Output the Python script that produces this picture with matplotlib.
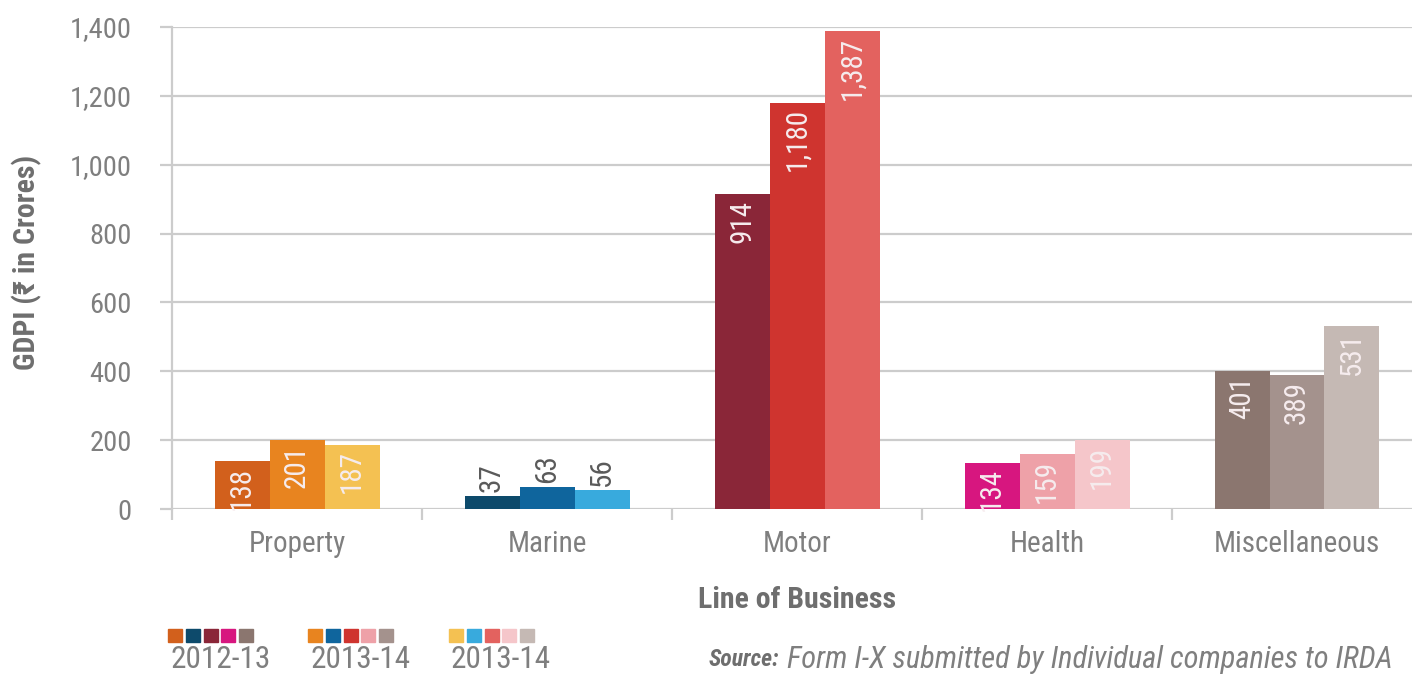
import numpy as np
import matplotlib.pyplot as plt
from matplotlib.patches import Rectangle

# Datos de GDPI por linea de negocio (en crores)
lineas = ["Property", "Marine", "Motor", "Health", "Miscellaneous"]
anios = ["2012-13", "2013-14", "2013-14"]
gdpi_2012_13 = [138, 37, 914, 134, 401]
gdpi_2013_14 = [201, 63, 1180, 159, 389]
gdpi_2014_15 = [187, 56, 1387, 199, 531]

# Colores por linea de negocio, un tono por cada anio
colores_2012_13 = ["#D2601C", "#0D4A6B", "#8A2638", "#D7167F", "#8B766F"]
colores_2013_14 = ["#E8841F", "#0F659D", "#CF342F", "#EEA1A8", "#A4928D"]
colores_2014_15 = ["#F4C152", "#38AADD", "#E3625F", "#F5C6CA", "#C5B9B4"]

series = [gdpi_2012_13, gdpi_2013_14, gdpi_2014_15]
colores = [colores_2012_13, colores_2013_14, colores_2014_15]

fuente = ["Roboto Condensed", "DejaVu Sans"]
plt.rcParams["font.stretch"] = "condensed"
gris = "#7F7F7F"
gris_grid = "#CCCCCC"

fig = plt.figure(figsize=(14.12, 6.77), dpi=100)
ax = fig.add_axes([172 / 1412, 168 / 677, 1250 / 1412, 482 / 677])

x = np.arange(len(lineas))
ancho = 0.22

for i, (valores, cols) in enumerate(zip(series, colores)):
    pos = x + (i - 1) * ancho
    barras = ax.bar(pos, valores, width=ancho, color=cols, zorder=3)
    for b, v in zip(barras, valores):
        etiqueta = f"{v:,}"
        cx = b.get_x() + b.get_width() / 2
        if v < 100:
            # barras bajas: etiqueta encima de la barra
            ax.annotate(etiqueta, (cx, v), xytext=(0, 3), textcoords="offset points",
                        rotation=90, ha="center", va="bottom", color="#5A5A5A",
                        fontsize=21, family=fuente, fontstretch="condensed", zorder=4)
        else:
            ax.annotate(etiqueta, (cx, v), xytext=(0, -4), textcoords="offset points",
                        rotation=90, ha="center", va="top", color="#F6ECEE",
                        fontsize=21, family=fuente, fontstretch="condensed", zorder=4)

ax.set_xlim(-0.5, len(lineas) - 0.5)
ax.set_ylim(0, 1400)
ax.set_yticks(range(0, 1401, 200))
ax.set_yticklabels([f"{t:,}" for t in range(0, 1401, 200)])
ax.grid(axis="y", color=gris_grid, linewidth=1.6, zorder=1)
ax.set_axisbelow(True)

for lado in ["top", "right", "bottom"]:
    ax.spines[lado].set_visible(False)
ax.spines["left"].set_color(gris_grid)
ax.spines["left"].set_linewidth(1.6)

ax.set_xticks(x)
ax.set_xticklabels(lineas)
ax.set_xticks(np.arange(-0.5, len(lineas), 1.0), minor=True)
ax.tick_params(axis="x", which="major", length=0, pad=15, labelsize=21, labelcolor=gris)
ax.tick_params(axis="x", which="minor", length=8, width=1.6, color=gris_grid)
ax.tick_params(axis="y", length=9, width=1.6, color=gris_grid, pad=20,
               labelsize=20.5, labelcolor=gris)
for t in ax.get_xticklabels() + ax.get_yticklabels():
    t.set_family(fuente)
    t.set_fontstretch("condensed")

fig.text(27 / 1412, 0.612, "GDPI (\u20b9 in Crores)", rotation=90, ha="center", va="center",
         fontsize=21.5, fontweight="bold", color="#6E6E6E", family=fuente, fontstretch="condensed")
fig.text(797 / 1412, 1 - 600 / 677, "Line of Business", ha="center", va="center",
         fontsize=21.5, fontweight="bold", color="#6E6E6E", family=fuente, fontstretch="condensed")

# Leyenda: cuadritos de color por anio
inicios = [168, 308, 449]
for x0, cols, anio in zip(inicios, colores, anios):
    for j, c in enumerate(cols):
        fig.add_artist(Rectangle(((x0 + j * 17.8) / 1412, 1 - 642 / 677), 14 / 1412, 13 / 677,
                                 transform=fig.transFigure, color=c))
    fig.text((x0 + 2) / 1412, 1 - 659 / 677, anio, ha="left", va="center",
             fontsize=22.5, color=gris, family=fuente, fontstretch="condensed")

fig.text(779 / 1412, 1 - 660 / 677, "Source:", ha="right", va="center", fontsize=17,
         fontweight="bold", style="italic", color="#6E6E6E", family=fuente,
         fontstretch="condensed")
fig.text(787 / 1412, 1 - 660 / 677, "Form I-X submitted by Individual companies to IRDA",
         ha="left", va="center", fontsize=22, style="italic", color=gris, family=fuente,
         fontstretch="condensed")

fig.savefig("out.png", dpi=100, facecolor="white")
